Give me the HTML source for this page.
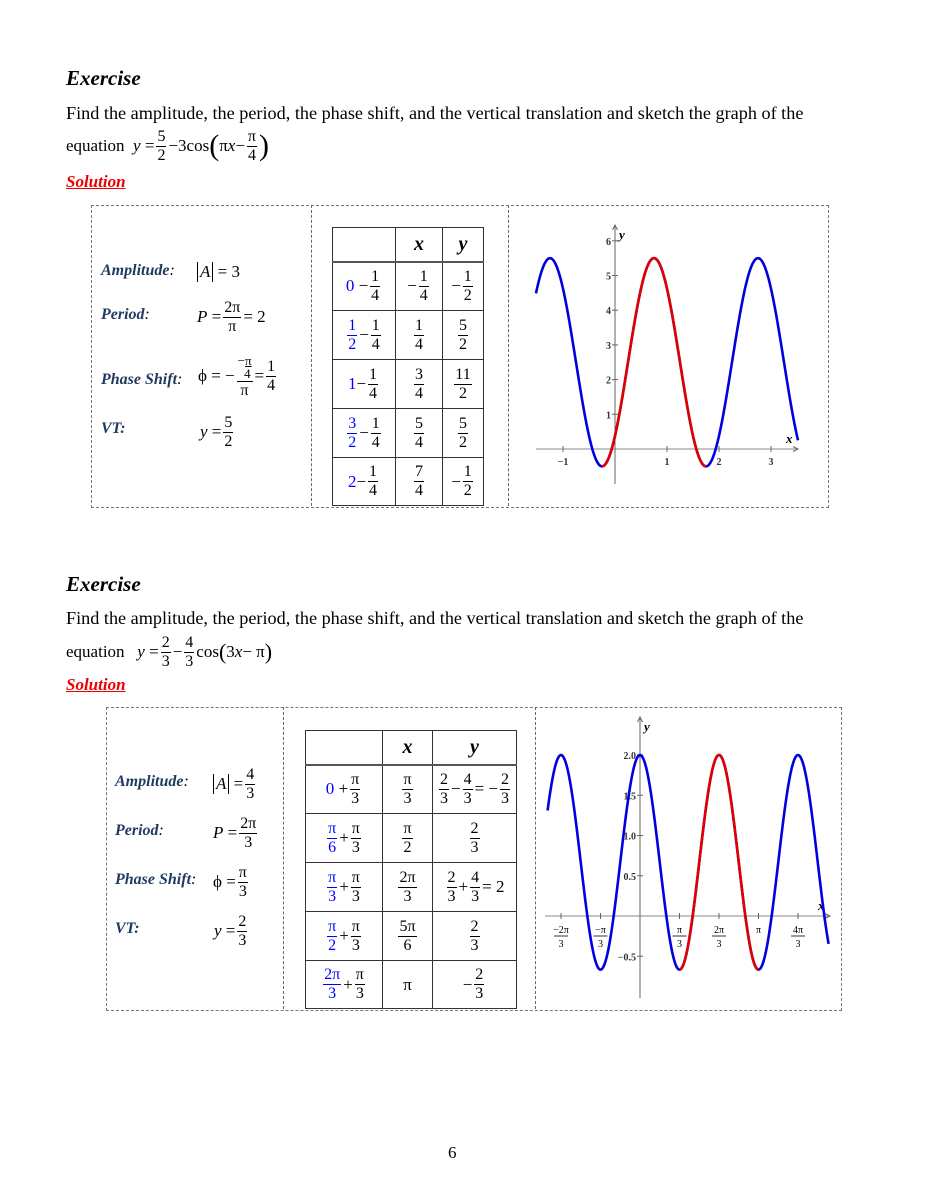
<!DOCTYPE html>
<html><head><meta charset="utf-8">
<style>
body{margin:0;background:#fff;}
#page{position:relative;width:927px;height:1200px;overflow:hidden;font-family:"Liberation Serif",serif;color:#000;}
.a{position:absolute;white-space:nowrap;}
.h{font-weight:bold;font-style:italic;font-size:21px;}
.p{font-size:18.2px;}
.sol{font-weight:bold;font-style:italic;font-size:17px;color:#e00;text-decoration:underline;}
.lab{font-weight:bold;font-style:italic;font-size:16px;color:#1f3a5f;}
.m{font-size:17px;display:flex;align-items:center;}
.fr{display:inline-flex;flex-direction:column;align-items:center;line-height:1;margin:0 2px;font-size:16px;}
.fr>span:first-child{border-bottom:1px solid #000;padding:0 1px 1px;}
.fr>span:last-child{padding-top:1px;}
.b{color:#00f;}
.b .fr>span:first-child,.fr.b>span:first-child{border-bottom-color:#00f;}
.box{position:absolute;border:1px dashed #777;}
.vd{position:absolute;border-left:1px dashed #666;}
table{position:absolute;border-collapse:collapse;}
td{border:1px solid #333;padding:0;text-align:center;vertical-align:middle;font-size:17px;}
td>div{display:flex;justify-content:center;align-items:center;}
th{border:1px solid #333;border-bottom:2px solid #555;font-weight:bold;font-style:italic;font-size:20px;}
</style></head>
<body>
<div id="page">

<div class="a h" style="left:66px;top:66px">Exercise</div>
<div class="a p" style="left:66px;top:103px">Find the amplitude, the period, the phase shift, and the vertical translation and sketch the graph of the</div>
<div class="a p m" style="left:66px;top:128px;height:36px">equation&nbsp;&nbsp; <i>y</i>&nbsp;=<span class="fr"><span>5</span><span>2</span></span>−3cos<span style="font-size:30px;font-weight:100">(</span>π<i>x</i> −<span class="fr"><span>π</span><span>4</span></span><span style="font-size:30px;font-weight:100">)</span></div>
<div class="a sol" style="left:66px;top:172px">Solution</div>

<div class="box" style="left:91px;top:205px;width:736px;height:301px"></div>
<div class="vd" style="left:311px;top:205px;height:301px"></div>
<div class="vd" style="left:508px;top:205px;height:301px"></div>

<div class="a lab" style="left:101px;top:262px">Amplitude<span style="color:#000;font-weight:normal">:</span></div>
<div class="a m" style="left:197px;top:260px;height:24px"><span style="border-left:1px solid #000;border-right:1px solid #000;padding:0 2px;font-style:italic">A</span>&nbsp;= 3</div>
<div class="a lab" style="left:101px;top:306px">Period<span style="color:#000;font-weight:normal">:</span></div>
<div class="a m" style="left:197px;top:297px;height:40px"><i>P</i>&nbsp;=<span class="fr"><span>2π</span><span>π</span></span>= 2</div>
<div class="a lab" style="left:101px;top:371px">Phase Shift<span style="color:#000;font-weight:normal">:</span></div>
<div class="a m" style="left:198px;top:350px;height:52px">ϕ = −<span class="fr"><span style="font-size:13px">−<u>π</u><br>&nbsp;&nbsp;4</span><span>π</span></span>=<span class="fr"><span>1</span><span>4</span></span></div>
<div class="a lab" style="left:101px;top:420px">VT:</div>
<div class="a m" style="left:200px;top:413px;height:38px"><i>y</i>&nbsp;=<span class="fr"><span>5</span><span>2</span></span></div>

<table style="left:332px;top:227px;width:152px">
<tr style="height:34px"><th style="width:60px"></th><th style="width:44px">x</th><th>y</th></tr>
<tr style="height:49px"><td><div><span class="b">0</span>&nbsp;−<span class="fr"><span>1</span><span>4</span></span></div></td><td><div>−<span class="fr"><span>1</span><span>4</span></span></div></td><td><div>−<span class="fr"><span>1</span><span>2</span></span></div></td></tr>
<tr style="height:49px"><td><div><span class="fr b"><span>1</span><span>2</span></span>−<span class="fr"><span>1</span><span>4</span></span></div></td><td><div><span class="fr"><span>1</span><span>4</span></span></div></td><td><div><span class="fr"><span>5</span><span>2</span></span></div></td></tr>
<tr style="height:49px"><td><div><span class="b">1</span>−<span class="fr"><span>1</span><span>4</span></span></div></td><td><div><span class="fr"><span>3</span><span>4</span></span></div></td><td><div><span class="fr"><span>11</span><span>2</span></span></div></td></tr>
<tr style="height:49px"><td><div><span class="fr b"><span>3</span><span>2</span></span>−<span class="fr"><span>1</span><span>4</span></span></div></td><td><div><span class="fr"><span>5</span><span>4</span></span></div></td><td><div><span class="fr"><span>5</span><span>2</span></span></div></td></tr>
<tr style="height:48px"><td><div><span class="b">2</span>−<span class="fr"><span>1</span><span>4</span></span></div></td><td><div><span class="fr"><span>7</span><span>4</span></span></div></td><td><div>−<span class="fr"><span>1</span><span>2</span></span></div></td></tr>
</table>

<div class="a h" style="left:66px;top:572px">Exercise</div>
<div class="a p" style="left:66px;top:608px">Find the amplitude, the period, the phase shift, and the vertical translation and sketch the graph of the</div>
<div class="a p m" style="left:66px;top:634px;height:36px">equation&nbsp;&nbsp;&nbsp; <i>y</i>&nbsp;=<span class="fr"><span>2</span><span>3</span></span>−<span class="fr"><span>4</span><span>3</span></span>cos<span style="font-size:22px">(</span>3<i>x</i> − π <span style="font-size:22px">)</span></div>
<div class="a sol" style="left:66px;top:675px">Solution</div>

<div class="box" style="left:106px;top:707px;width:734px;height:302px"></div>
<div class="vd" style="left:283px;top:707px;height:302px"></div>
<div class="vd" style="left:535px;top:707px;height:302px"></div>

<div class="a lab" style="left:115px;top:773px">Amplitude<span style="color:#000;font-weight:normal">:</span></div>
<div class="a m" style="left:213px;top:764px;height:40px"><span style="border-left:1px solid #000;border-right:1px solid #000;padding:0 2px;font-style:italic">A</span>&nbsp;=<span class="fr"><span>4</span><span>3</span></span></div>
<div class="a lab" style="left:115px;top:822px">Period<span style="color:#000;font-weight:normal">:</span></div>
<div class="a m" style="left:213px;top:813px;height:40px"><i>P</i>&nbsp;=<span class="fr"><span>2π</span><span>3</span></span></div>
<div class="a lab" style="left:115px;top:871px">Phase Shift<span style="color:#000;font-weight:normal">:</span></div>
<div class="a m" style="left:213px;top:862px;height:40px">ϕ =<span class="fr"><span>π</span><span>3</span></span></div>
<div class="a lab" style="left:115px;top:920px">VT:</div>
<div class="a m" style="left:214px;top:911px;height:40px"><i>y</i>&nbsp;=<span class="fr"><span>2</span><span>3</span></span></div>

<table style="left:305px;top:730px;width:212px">
<tr style="height:34px"><th style="width:74px"></th><th style="width:47px">x</th><th>y</th></tr>
<tr style="height:49px"><td><div><span class="b">0</span>&nbsp;+<span class="fr"><span>π</span><span>3</span></span></div></td><td><div><span class="fr"><span>π</span><span>3</span></span></div></td><td><div><span class="fr"><span>2</span><span>3</span></span>−<span class="fr"><span>4</span><span>3</span></span>= −<span class="fr"><span>2</span><span>3</span></span></div></td></tr>
<tr style="height:49px"><td><div><span class="fr b"><span>π</span><span>6</span></span>+<span class="fr"><span>π</span><span>3</span></span></div></td><td><div><span class="fr"><span>π</span><span>2</span></span></div></td><td><div><span class="fr"><span>2</span><span>3</span></span></div></td></tr>
<tr style="height:49px"><td><div><span class="fr b"><span>π</span><span>3</span></span>+<span class="fr"><span>π</span><span>3</span></span></div></td><td><div><span class="fr"><span>2π</span><span>3</span></span></div></td><td><div><span class="fr"><span>2</span><span>3</span></span>+<span class="fr"><span>4</span><span>3</span></span>= 2</div></td></tr>
<tr style="height:49px"><td><div><span class="fr b"><span>π</span><span>2</span></span>+<span class="fr"><span>π</span><span>3</span></span></div></td><td><div><span class="fr"><span>5π</span><span>6</span></span></div></td><td><div><span class="fr"><span>2</span><span>3</span></span></div></td></tr>
<tr style="height:48px"><td><div><span class="fr b"><span>2π</span><span>3</span></span>+<span class="fr"><span>π</span><span>3</span></span></div></td><td><div>π</div></td><td><div>−<span class="fr"><span>2</span><span>3</span></span></div></td></tr>
</table>

<svg id="charts" width="927" height="1200" style="position:absolute;left:0;top:0"></svg>

<div class="a" style="left:448px;top:1143px;font-size:17px">6</div>
</div>

<script>
// Chart 1: y = D - A*cos(B*x - C)  (as plotted: minimum at x = -1/4)
const c1Params = [2.5, 3, Math.PI, -Math.PI/4]; // D, A, B, C
const c1Domain = [-1.52, 3.52];
const c1Highlight = [-0.25, 1.75];
const c1XTicks = [-1, 1, 2, 3];
const c1XTickLabels = ["−1", "1", "2", "3"];
const c1YTicks = [1, 2, 3, 4, 5, 6];
const c1YTickLabels = ["1", "2", "3", "4", "5", "6"];

// Chart 2
const c2Params = [2/3, 4/3, 3, Math.PI];
const c2Domain = [-2.45, 5.0];
const c2Highlight = [Math.PI/3, Math.PI];
const c2XTicks = [-2*Math.PI/3, -Math.PI/3, Math.PI/3, 2*Math.PI/3, Math.PI, 4*Math.PI/3];
const c2XTickLabels = [["−2π","3"],["−π","3"],["π","3"],["2π","3"],["π",""],["4π","3"]];
const c2YTicks = [-0.5, 0.5, 1.0, 1.5, 2.0];
const c2YTickLabels = ["−0.5", "0.5", "1.0", "1.5", "2.0"];

const NS = "http://www.w3.org/2000/svg";
const svg = document.getElementById("charts");
function mk(tag, attrs, parent){
  const e = document.createElementNS(NS, tag);
  for (const k in attrs) e.setAttribute(k, attrs[k]);
  (parent||svg).appendChild(e);
  return e;
}

function drawChart(cfg){
  const g = mk("g", {});
  
  
  const sx = v => cfg.ox + v*cfg.kx;
  const sy = v => cfg.oy - v*cfg.ky;
  const [D,A,B,C] = cfg.params;
  const f = x => D - A*Math.cos(B*x - C);
  const xa = mk("line", {x1:cfg.axX[0], y1:cfg.oy, x2:cfg.axX[1], y2:cfg.oy, stroke:"#888", "stroke-width":1}, g);
  
  
  const ya = mk("line", {x1:cfg.ox, y1:cfg.axY[0], x2:cfg.ox, y2:cfg.axY[1], stroke:"#666", "stroke-width":1}, g);
  
  
  mk("path", {d:`M${cfg.axX[1]-5},${cfg.oy-2.5} L${cfg.axX[1]},${cfg.oy} L${cfg.axX[1]-5},${cfg.oy+2.5}`, fill:"none", stroke:"#666"}, g);
  mk("path", {d:`M${cfg.ox-2.5},${cfg.axY[0]+5} L${cfg.ox},${cfg.axY[0]} L${cfg.ox+2.5},${cfg.axY[0]+5}`, fill:"none", stroke:"#666"}, g);
  cfg.yTicks.forEach((v,i)=>{
    mk("line", {x1:cfg.ox-3, y1:sy(v), x2:cfg.ox+3, y2:sy(v), stroke:"#666"}, g);
    const t = mk("text", {x:cfg.ox-4, y:sy(v)+4, "text-anchor":"end", "font-size":cfg.fs, "font-weight":"bold", "font-family":"Liberation Serif, serif", fill:"#333"}, g);
    t.textContent = cfg.yLabels[i];
    
    
  });
  cfg.xTicks.forEach((v,i)=>{
    mk("line", {x1:sx(v), y1:cfg.oy-3, x2:sx(v), y2:cfg.oy+3, stroke:"#666"}, g);
    const lab = cfg.xLabels[i];
    if (Array.isArray(lab)) {
      const t1 = mk("text", {x:sx(v), y:cfg.oy+17, "text-anchor":"middle", "font-size":cfg.fs, "font-family":"Liberation Serif, serif"}, g);
      t1.textContent = lab[0];
      
      
      if (lab[1]) {
        mk("line", {x1:sx(v)-7, y1:cfg.oy+20, x2:sx(v)+7, y2:cfg.oy+20, stroke:"#000", "stroke-width":0.8}, g);
        const t2 = mk("text", {x:sx(v), y:cfg.oy+31, "text-anchor":"middle", "font-size":cfg.fs, "font-family":"Liberation Serif, serif"}, g);
        t2.textContent = lab[1];
      }
    } else {
      const t = mk("text", {x:sx(v), y:cfg.oy+16, "text-anchor":"middle", "font-size":cfg.fs, "font-weight":"bold", "font-family":"Liberation Serif, serif", fill:"#333"}, g);
      t.textContent = lab;
      
      
    }
  });
  const xt = mk("text", {x:cfg.axX[1]-12, y:cfg.oy-6, "font-size":13, "font-style":"italic", "font-weight":"bold", "font-family":"Liberation Serif, serif"}, g);
  xt.textContent = "x";
  
  
  const yt = mk("text", {x:cfg.ox+4, y:cfg.axY[0]+14, "font-size":13, "font-style":"italic", "font-weight":"bold", "font-family":"Liberation Serif, serif"}, g);
  yt.textContent = "y";
  
  
  function curve(a, b, color, name){
    const n = 300; let d = "";
    for (let i=0;i<=n;i++){ const x = a + (b-a)*i/n; d += (i?"L":"M") + sx(x).toFixed(2) + "," + sy(f(x)).toFixed(2); }
    const p = mk("path", {d, fill:"none", stroke:color, "stroke-width":2.6}, g);
    
    
  }
  curve(cfg.domain[0], cfg.domain[1], "#0000e0", "curve-full");
  curve(cfg.hl[0], cfg.hl[1], "#e00000", "curve-one-period");
}

drawChart({name:"graph-1", ox:615, oy:449, kx:52, ky:34.7, params:c1Params, domain:c1Domain, hl:c1Highlight,
  xTicks:c1XTicks, xLabels:c1XTickLabels, yTicks:c1YTicks, yLabels:c1YTickLabels,
  axX:[536,798], axY:[225,484], fs:10});
drawChart({name:"graph-2", ox:640, oy:916, kx:39.5/(Math.PI/3), ky:80.5, params:c2Params, domain:c2Domain, hl:c2Highlight,
  xTicks:c2XTicks, xLabels:c2XTickLabels, yTicks:c2YTicks, yLabels:c2YTickLabels,
  axX:[545,830], axY:[717,998], fs:10});
</script>
</body></html>
